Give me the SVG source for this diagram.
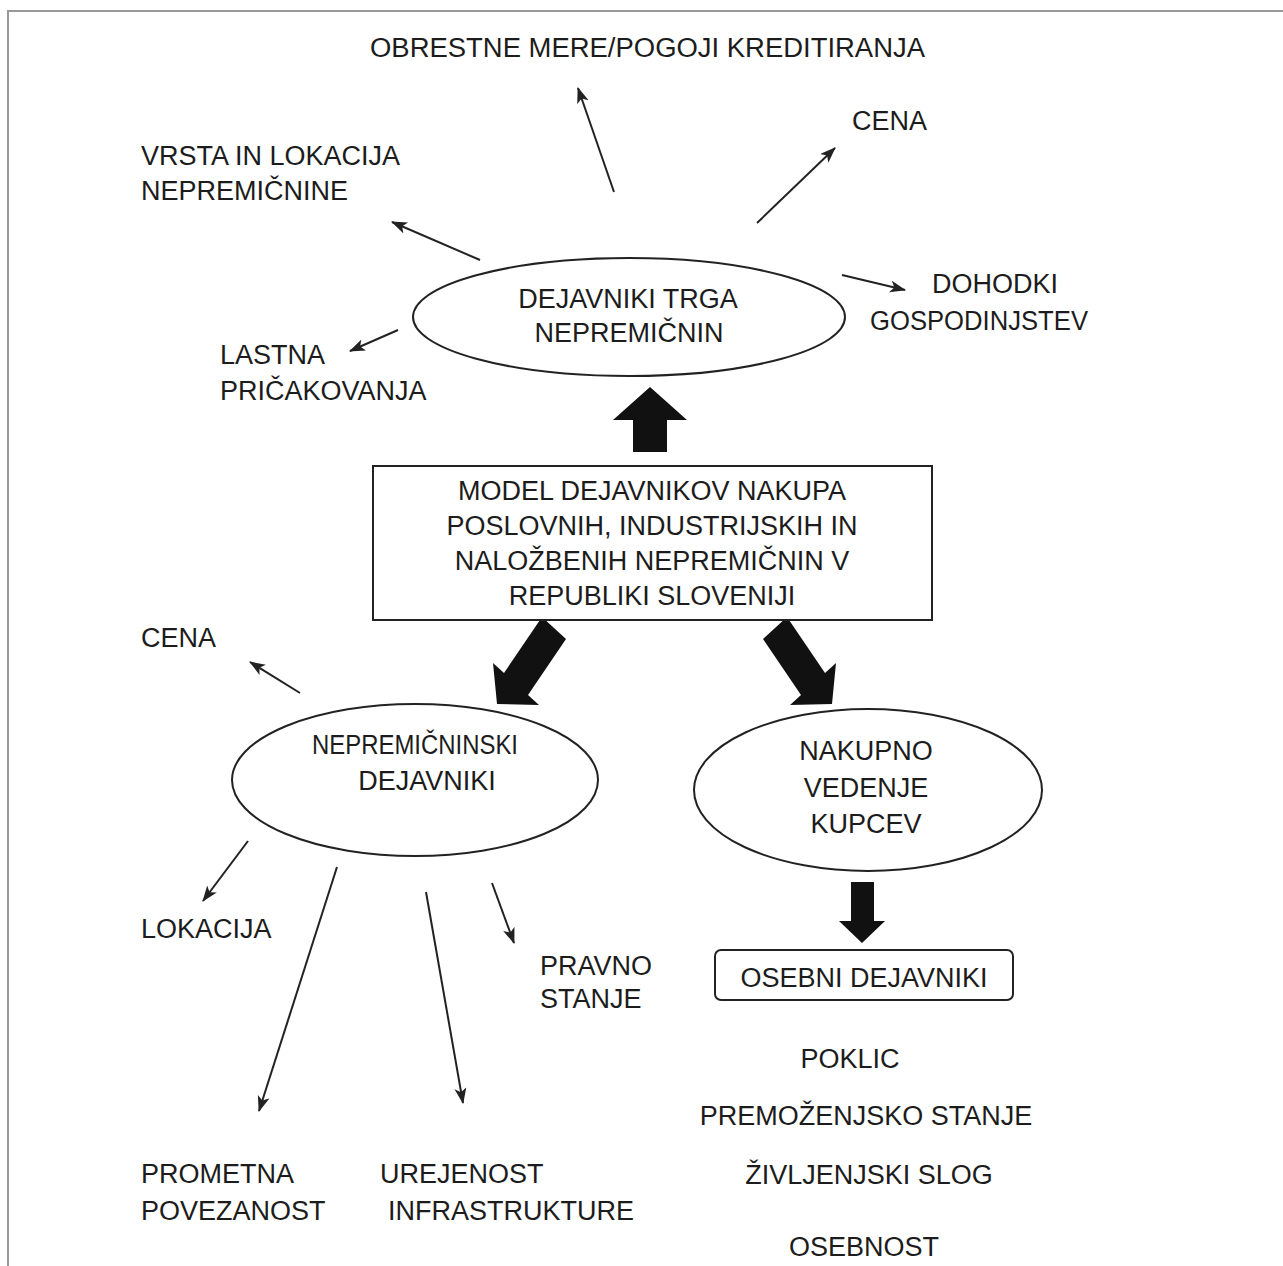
<svg xmlns="http://www.w3.org/2000/svg" width="1283" height="1266" viewBox="0 0 1283 1266">
<defs>
<style>
text{font-family:"Liberation Sans",Arial,sans-serif;font-size:27px;fill:#1c1c1c}
.c{text-anchor:middle}
.thin{stroke:#222;stroke-width:2;fill:none;marker-end:url(#ah)}
.node{fill:#fff;stroke:#222;stroke-width:2}
.blk{fill:#111}
</style>
<marker id="ah" markerUnits="userSpaceOnUse" markerWidth="18" markerHeight="14" refX="15" refY="6" orient="auto">
<path d="M0,0 L16,6 L0,12 L4,6 Z" fill="#222"/>
</marker>
</defs>
<rect width="1283" height="1266" fill="#fff"/>
<path d="M8,1266 V11 H1283" fill="none" stroke="#999" stroke-width="2"/>

<g id="connectors">
<line class="thin" x1="614" y1="192" x2="578" y2="88"/>
<line class="thin" x1="757" y1="223" x2="835" y2="148"/>
<line class="thin" x1="480" y1="260" x2="392" y2="222"/>
<line class="thin" x1="398" y1="330" x2="350" y2="351"/>
<line class="thin" x1="842" y1="275" x2="905" y2="290"/>
<line class="thin" x1="300" y1="693" x2="250" y2="662"/>
<line class="thin" x1="248" y1="841" x2="203" y2="901"/>
<line class="thin" x1="337" y1="867" x2="259" y2="1111"/>
<line class="thin" x1="426" y1="892" x2="463" y2="1103"/>
<line class="thin" x1="492" y1="883" x2="514" y2="943"/>
<polygon class="blk" points="633,452 633,420 613,420 650,387 687,420 667,420 667,452"/>
<polygon class="blk" points="542,617 504,673 493,663 497,704 539,705 528,695 566,639"/>
<polygon class="blk" points="787,617 825,673 836,663 832,704 790,705 801,695 763,639"/>
<polygon class="blk" points="851,882 874,882 874,921 885,921 862,943 839,921 851,921"/>
</g>

<g id="model">
<rect class="node" x="373" y="466" width="559" height="154" stroke-width="3"/>
<text class="c" x="652" y="500">MODEL DEJAVNIKOV NAKUPA</text>
<text class="c" x="652" y="535">POSLOVNIH, INDUSTRIJSKIH IN</text>
<text class="c" x="652" y="570">NALOŽBENIH NEPREMIČNIN V</text>
<text class="c" x="652" y="605">REPUBLIKI SLOVENIJI</text>
</g>

<g id="trg">
<ellipse class="node" cx="629" cy="317" rx="216" ry="59"/>
<text class="c" x="628" y="308">DEJAVNIKI TRGA</text>
<text class="c" x="629" y="342">NEPREMIČNIN</text>
</g>

<g id="nepremicninski">
<ellipse class="node" cx="415" cy="780" rx="183" ry="76"/>
<text class="c" x="415" y="754" textLength="206" lengthAdjust="spacingAndGlyphs">NEPREMIČNINSKI</text>
<text class="c" x="427" y="790">DEJAVNIKI</text>
</g>

<g id="nakupno">
<ellipse class="node" cx="868" cy="790" rx="174" ry="81"/>
<text class="c" x="866" y="760">NAKUPNO</text>
<text class="c" x="866" y="797">VEDENJE</text>
<text class="c" x="866" y="833">KUPCEV</text>
</g>

<g id="osebni">
<rect class="node" x="715" y="950" width="298" height="50" rx="6"/>
<text class="c" x="864" y="987">OSEBNI DEJAVNIKI</text>
</g>

<g id="labels">
<text x="370" y="57" textLength="555" lengthAdjust="spacingAndGlyphs">OBRESTNE MERE/POGOJI KREDITIRANJA</text>
<text x="852" y="130">CENA</text>
<text x="141" y="165">VRSTA IN LOKACIJA</text>
<text x="141" y="200">NEPREMIČNINE</text>
<text x="932" y="293">DOHODKI</text>
<text x="870" y="330" textLength="218" lengthAdjust="spacingAndGlyphs">GOSPODINJSTEV</text>
<text x="220" y="364">LASTNA</text>
<text x="220" y="400">PRIČAKOVANJA</text>
<text x="141" y="647">CENA</text>
<text x="141" y="938">LOKACIJA</text>
<text x="540" y="975">PRAVNO</text>
<text x="540" y="1008">STANJE</text>
<text x="141" y="1183">PROMETNA</text>
<text x="141" y="1220">POVEZANOST</text>
<text x="380" y="1183">UREJENOST</text>
<text x="388" y="1220">INFRASTRUKTURE</text>
<text class="c" x="850" y="1068">POKLIC</text>
<text class="c" x="866" y="1125">PREMOŽENJSKO STANJE</text>
<text class="c" x="869" y="1184">ŽIVLJENJSKI SLOG</text>
<text class="c" x="864" y="1256">OSEBNOST</text>
</g>
</svg>
